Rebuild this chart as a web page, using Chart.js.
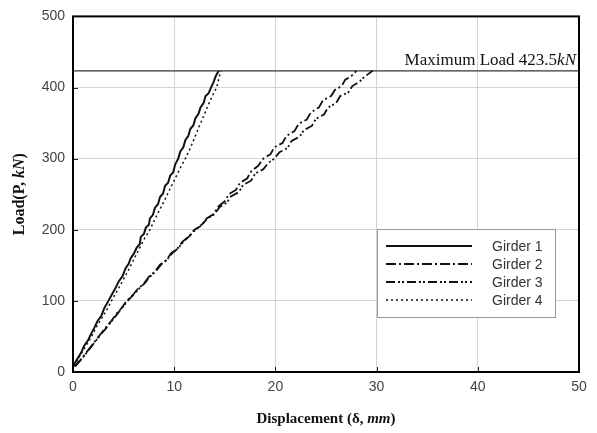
<!DOCTYPE html>
<html><head><meta charset="utf-8">
<script src="https://cdn.jsdelivr.net/npm/chart.js@4"></script>
<style>html,body{margin:0;padding:0;background:#fff}#wrap{width:597px;height:433px}</style>
</head><body><div id="wrap"><canvas id="c" width="597" height="433"></canvas></div>
<script>
const seriesNames = ["Girder 1", "Girder 2", "Girder 3", "Girder 4"];
const g1Disp = [0.1,0.4,0.8,1.1,1.5,1.8,2.1,2.4,2.8,3.1,3.5,3.8,4.2,4.5,4.9,5.2,5.5,5.7,6.0,6.3,6.6,6.7,7.0,7.2,7.5,7.6,7.9,8.1,8.4,8.6,8.9,9.1,9.4,9.6,9.9,10.1,10.4,10.6,10.9,11.1,11.4,11.6,11.9,12.1,12.4,12.6,12.9,13.1,13.4,13.7,13.9,14.1,14.4];
const g1Load = [10,18,27,37,45,54,62,71,79,90,100,108,118,127,135,146,152,160,166,175,180,190,194,203,207,216,221,231,236,246,251,262,266,276,281,292,300,310,316,326,332,342,347,357,363,372,378,388,392,402,408,416,423.5];
const g2Disp = [0.2,0.8,1.4,2.0,2.6,3.2,3.8,4.3,4.8,5.3,5.9,6.4,7.0,7.5,8.1,8.6,9.2,9.7,10.3,10.8,11.4,12.0,12.7,13.2,13.9,14.3,15.0,15.4,16.1,16.5,17.2,17.6,18.3,18.8,19.5,19.9,20.7,21.1,21.9,22.3,23.1,23.5,24.3,24.7,25.5,25.9,26.55,26.9,27.5,28.0];
const g2Load = [8,18,29,40,51,62,72,82,90,100,108,117,124,134,141,151,157,167,173,183,190,200,206,216,222,232,240,250,256,266,272,282,290,300,306,316,322,332,339,349,355,365,372,382,388,397,402,411,416,423.5];
const g3Disp = [0.2,0.9,1.5,2.1,2.7,3.3,3.9,4.4,4.9,5.4,6.0,6.5,7.1,7.6,8.2,8.7,9.3,9.8,10.4,10.9,11.5,12.1,12.7,13.3,14.0,14.5,15.2,15.6,16.4,16.8,17.6,18.0,18.8,19.3,19.9,20.4,21.2,21.6,22.4,22.8,23.6,24.0,24.8,25.2,26.0,26.4,27.2,27.6,28.3,28.8,29.6];
const g3Load = [8,19,30,41,52,62,73,82,91,100,109,117,125,134,142,151,158,167,174,183,191,200,207,216,222,232,238,247,253,263,269,279,285,294,300,309,315,325,331,340,346,356,362,372,378,388,393,402,408,415,423.5];
const g4Disp = [0.1,0.6,1.2,1.8,2.3,2.9,3.4,3.8,4.4,4.9,5.5,6.0,6.5,7.0,7.6,8.1,8.6,9.1,9.6,10.1,10.6,11.1,11.6,12.0,12.4,12.8,13.2,13.6,13.9,14.2,14.4,14.6];
const g4Load = [8,21,35,49,63,77,89,100,115,128,144,158,172,186,200,215,229,243,258,272,287,300,315,329,343,356,370,383,392,400,412,423.5];
const maxLoad = 423.5;
const maxLoadLine = [0, 50];
const xTicks = [0, 10, 20, 30, 40, 50];
const yTicks = [0, 100, 200, 300, 400, 500];

function pts(xs, ys){ return xs.map((x,i)=>({x:x, y:ys[i]})); }

const styles = [
  {dash: [], width: 2},
  {dash: [10,3,2,3], width: 1.8},
  {dash: [9,3,2,2,2,3], width: 1.8},
  {dash: [2,3], width: 1.5}
];
const seriesData = [pts(g1Disp,g1Load), pts(g2Disp,g2Load), pts(g3Disp,g3Load), pts(g4Disp,g4Load)];

const datasets = seriesData.map((d,i)=>({
  label: seriesNames[i], data: d, showLine: true, borderColor: '#111', backgroundColor: '#111',
  borderWidth: styles[i].width, borderDash: styles[i].dash, pointRadius: 0, tension: 0, fill: false
}));
datasets.push({label: '__max', data: maxLoadLine.map(x=>({x:x,y:maxLoad})), showLine: true,
  borderColor: '#333', borderWidth: 1.2, pointRadius: 0, borderDash: []});

const serif = '"Liberation Serif", "Times New Roman", serif';
const sans = '"Liberation Sans", Arial, sans-serif';

function drawMixed(ctx, parts, x, y, align){
  let total = 0;
  parts.forEach(p=>{ ctx.font = p[1]; total += ctx.measureText(p[0]).width; });
  let sx = align === 'right' ? x - total : (align === 'center' ? x - total/2 : x);
  ctx.textAlign = 'left';
  parts.forEach(p=>{ ctx.font = p[1]; ctx.fillText(p[0], sx, y); sx += ctx.measureText(p[0]).width; });
}

const decor = {
  id: 'decor',
  afterDatasetsDraw(chart){
    const ctx = chart.ctx, a = chart.chartArea, xs = chart.scales.x, ys = chart.scales.y;
    ctx.save();
    ctx.strokeStyle = '#222'; ctx.lineWidth = 1;
    yTicks.forEach(v=>{ const py = Math.round(ys.getPixelForValue(v))+0.5; ctx.beginPath(); ctx.moveTo(a.left, py); ctx.lineTo(a.left+5, py); ctx.stroke(); });
    xTicks.forEach(v=>{ const px = Math.round(xs.getPixelForValue(v))+0.5; ctx.beginPath(); ctx.moveTo(px, a.bottom); ctx.lineTo(px, a.bottom-5); ctx.stroke(); });
    ctx.strokeStyle = '#000'; ctx.lineWidth = 2;
    ctx.strokeRect(a.left, a.top, a.right-a.left, a.bottom-a.top);
    ctx.fillStyle = '#111'; ctx.textBaseline = 'alphabetic';
    const ly = ys.getPixelForValue(maxLoad);
    drawMixed(ctx, [['Maximum Load 423.5', '17px '+serif], ['kN', 'italic 17px '+serif]], a.right-3, ly-6, 'right');
    const lx = 377, lyT = 229, lw = 178, lh = 88;
    ctx.fillStyle = '#fff'; ctx.fillRect(lx, lyT, lw, lh);
    ctx.strokeStyle = '#999'; ctx.lineWidth = 1; ctx.strokeRect(lx+0.5, lyT+0.5, lw, lh);
    const rows = [246, 264, 282, 300];
    seriesNames.forEach((n,i)=>{
      ctx.strokeStyle = '#111'; ctx.lineWidth = styles[i].width; ctx.setLineDash(styles[i].dash);
      ctx.beginPath(); ctx.moveTo(386, rows[i]); ctx.lineTo(472, rows[i]); ctx.stroke();
      ctx.setLineDash([]);
      ctx.fillStyle = '#333'; ctx.font = '14px '+sans; ctx.textBaseline = 'middle'; ctx.textAlign = 'left';
      ctx.fillText(n, 492, rows[i]+1);
    });
    ctx.fillStyle = '#111'; ctx.textBaseline = 'middle';
    drawMixed(ctx, [['Displacement (δ, ', 'bold 15px '+serif], ['mm', 'bold italic 15px '+serif], [')', 'bold 15px '+serif]], (a.left+a.right)/2, 419, 'center');
    ctx.translate(20, (a.top+a.bottom)/2); ctx.rotate(-Math.PI/2);
    drawMixed(ctx, [['Load(P, ', 'bold 16px '+serif], ['kN', 'bold italic 16px '+serif], [')', 'bold 16px '+serif]], 0, 0, 'center');
    ctx.restore();
  }
};

new Chart(document.getElementById('c'), {
  type: 'scatter',
  data: { datasets: datasets },
  options: {
    responsive: false, animation: false, devicePixelRatio: 1,
    layout: { padding: { top: 13, right: 18, left: 0, bottom: 0 } },
    plugins: { legend: { display: false }, tooltip: { enabled: false } },
    scales: {
      x: { type: 'linear', min: 0, max: 50,
        afterBuildTicks(s){ s.ticks = xTicks.map(v=>({value:v})); },
        afterFit(s){ s.height = 61; },
        ticks: { color: '#444', font: { family: sans, size: 14 }, padding: 7, maxRotation: 0 },
        grid: { color: '#d4d4d4', lineWidth: 1, drawTicks: false }, border: { display: false } },
      y: { type: 'linear', min: 0, max: 500,
        afterBuildTicks(s){ s.ticks = yTicks.map(v=>({value:v})); },
        afterFit(s){ s.width = 73; },
        ticks: { color: '#444', font: { family: sans, size: 14 }, padding: 8 },
        grid: { color: '#d4d4d4', lineWidth: 1, drawTicks: false }, border: { display: false } }
    }
  },
  plugins: [decor]
});
</script></body></html>
